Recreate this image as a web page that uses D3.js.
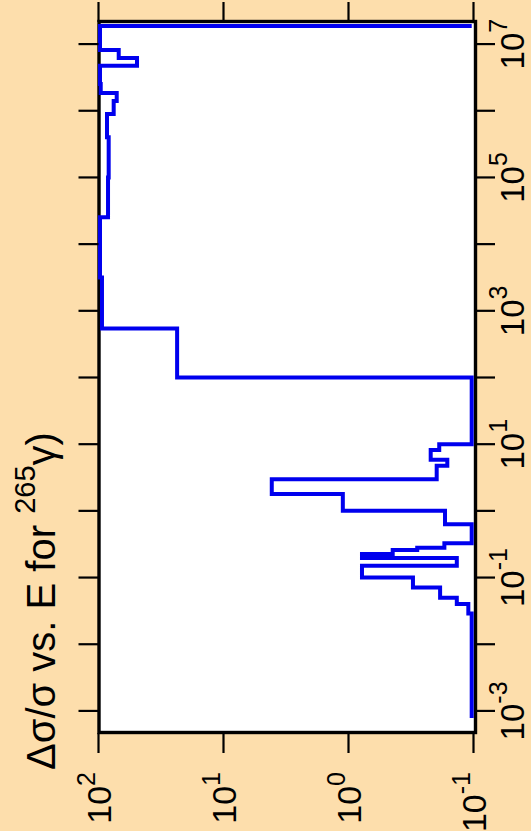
<!DOCTYPE html>
<html><head><meta charset="utf-8">
<script src="https://cdn.jsdelivr.net/npm/d3@7"></script>
<style>html,body{margin:0;padding:0;background:#fddeac;} svg{display:block}</style>
</head><body><div id="chart"></div>
<script>
// Energy group boundaries (eV) and relative uncertainty per group
const binEdges = [7.8e-4, 0.029, 0.04, 0.05, 0.071, 0.1, 0.15, 0.196, 0.225, 0.258, 0.279, 0.327, 0.63, 1.0, 1.79, 2.98, 4.74, 5.83, 8.17, 10, 100, 545, 3170, 25200, 1e5, 4.0e5, 8.93e5, 1.40e6, 1.85e6, 2.52e6, 4.74e6, 6.18e6, 8.15e6, 1.87e7];
const relErr = [0, 0.110, 0.136, 0.185, 0.305, 0.78, 0.136, 0.78, 0.443, 0.282, 0.171, 0, 0.169, 1.11, 4.11, 0.197, 0.162, 0.22, 0.188, 0, 23.5, 93.8, 120, 83.9, 82.9, 85.5, 75.6, 71.5, 96, 120, 49.2, 68.9, 120];
const energyTicks = [1e-3, 1e-2, 1e-1, 1, 10, 1e2, 1e3, 1e4, 1e5, 1e6, 1e7];
const energyLabelExps = [-3, -1, 1, 3, 5, 7];
const valueTicks = [0.1, 1, 10, 100];
const valueLabelExps = [-1, 0, 1, 2];
const energyDomain = [5e-4, 2e7];
const valueDomain = [0.1, 100];
const titleMain = "\u0394\u03c3/\u03c3 vs. E for ";
const titleSup = "265";
const titleTail = "\u03b3)";

const W = 531, H = 831;
const svg = d3.select("#chart").append("svg").attr("width", W).attr("height", H);
svg.append("rect").attr("width", W).attr("height", H).attr("fill", "#fddeac");

// Chart drawn in unrotated frame (width 831, height 531), then rotated -90deg
const g = svg.append("g").attr("transform", `translate(0,${H}) rotate(-90)`);
const x = d3.scaleLog().domain(energyDomain).range([100, 807]);
const y = d3.scaleLog().domain(valueDomain).range([473.5, 98.5]);
const [x0, x1] = x.range();
const [yb, yt] = y.range();
const font = "'Liberation Sans', Arial, Helvetica, sans-serif";

// plot area
g.append("rect").attr("x", x0 - 1.5).attr("y", yt).attr("width", x1 - x0 + 4).attr("height", yb - yt + 1.5).attr("fill", "#fff");

// histogram outline (values outside the axis range are drawn at the frame edge)
const yPix = v => Math.max(yt + 1.5, Math.min(yb - 1.8, v <= valueDomain[0] ? yb : y(v)));
const p = d3.path();
p.moveTo(x(binEdges[0]), yPix(0));
relErr.forEach((v, i) => {
  p.lineTo(x(binEdges[i]), yPix(v));
  p.lineTo(x(binEdges[i + 1]), yPix(v));
});
p.lineTo(x(binEdges[binEdges.length - 1]), yPix(0));

// frame
g.append("rect").attr("x", x0 - 1.5).attr("y", yt + 0.5).attr("width", x1 - x0 + 4).attr("height", yb - yt + 1.5)
  .attr("fill", "none").attr("stroke", "#000").attr("stroke-width", 3.4);

g.append("path").attr("d", p.toString()).attr("fill", "none").attr("stroke", "#0000ee")
  .attr("stroke-width", 4).attr("stroke-linejoin", "miter");

// ticks energy axis (both sides, outward)
const tk = 20;
g.selectAll(".etb").data(energyTicks).join("line")
  .attr("x1", d => x(d)).attr("x2", d => x(d)).attr("y1", yb + 1.5).attr("y2", yb + 1.5 + tk)
  .attr("stroke", "#000").attr("stroke-width", 2.2);
g.selectAll(".ett").data(energyTicks).join("line")
  .attr("x1", d => x(d)).attr("x2", d => x(d)).attr("y1", yt).attr("y2", yt - tk)
  .attr("stroke", "#000").attr("stroke-width", 2.2);
// ticks value axis
g.selectAll(".vtl").data(valueTicks).join("line")
  .attr("y1", d => y(d)).attr("y2", d => y(d)).attr("x1", x0 - 2).attr("x2", x0 - 2 - tk)
  .attr("stroke", "#000").attr("stroke-width", 2.2);
g.selectAll(".vtr").data(valueTicks).join("line")
  .attr("y1", d => y(d)).attr("y2", d => y(d)).attr("x1", x1 + 2).attr("x2", x1 + 2 + tk)
  .attr("stroke", "#000").attr("stroke-width", 2.2);

// energy labels
const el = g.selectAll(".el").data(energyLabelExps).join("text")
  .attr("x", d => x(Math.pow(10, d))).attr("y", 523.5)
  .attr("text-anchor", "middle").attr("font-family", font).attr("font-size", 33).attr("fill", "#000");
el.append("tspan").text("10");
el.append("tspan").attr("font-size", 25).attr("dy", -17).text(d => d < 0 ? "-" + (-d) : String(d));

// value labels
const vl = g.selectAll(".vl").data(valueLabelExps).join("text")
  .attr("x", 59).attr("y", d => y(Math.pow(10, d)) + 12.5)
  .attr("text-anchor", "end").attr("font-family", font).attr("font-size", 34).attr("fill", "#000");
vl.append("tspan").text("10");
vl.append("tspan").attr("font-size", 25).attr("dy", -16).text(d => d < 0 ? "-" + (-d) : String(d));

// title
const t = g.append("text").attr("x", 61).attr("y", 55).attr("font-family", font).attr("font-size", 40).attr("fill", "#000");
t.append("tspan").text(titleMain);
t.append("tspan").attr("font-size", 29).attr("dy", -20).text(titleSup);
t.append("tspan").attr("font-size", 40).attr("dy", 20).text(titleTail);
</script>
</body></html>
